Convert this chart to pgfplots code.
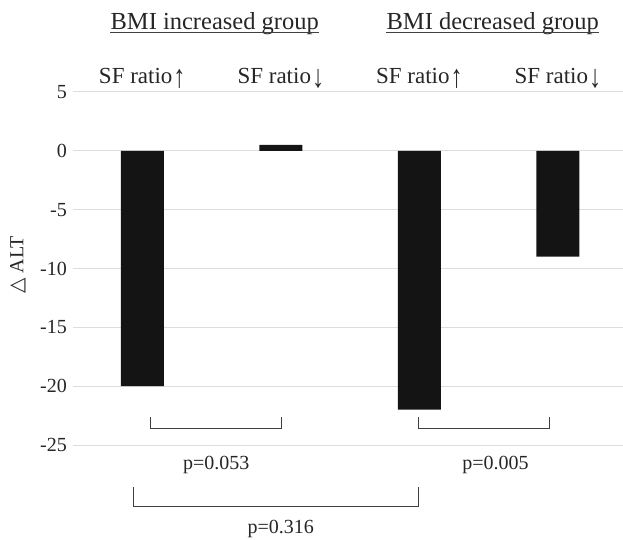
\documentclass[border=0pt]{standalone}
\usepackage{pgfplots}
\pgfplotsset{compat=1.18}
\usepackage{fontspec}
\setmainfont{Liberation Serif}
\newfontfamily\symfont{DejaVu Sans}
\definecolor{txt}{HTML}{262626}
\definecolor{barc}{HTML}{141414}
\definecolor{gridc}{HTML}{DDDDDD}
\definecolor{brk}{HTML}{404040}
\newcommand{\upar}{\kern1pt\raisebox{-4pt}{\scalebox{1.05}[1.4]{↑}}}
\newcommand{\dnar}{\kern1pt\raisebox{-4pt}{\scalebox{1.05}[1.4]{↓}}}
\begin{document}
\begin{tikzpicture}[x=1pt,y=1pt]
\useasboundingbox (0,0) rectangle (623,539);
\begin{axis}[
  at={(73pt,94pt)}, anchor=south west,
  width=550pt, height=353pt, scale only axis,
  xmin=-0.5, xmax=3.47, ymin=-25, ymax=5,
  axis line style={draw=none},
  major tick style={draw=none},
  xtick=\empty,
  ytick={-25,-20,-15,-10,-5,0,5},
  yticklabels={-25,-20,-15,-10,-5,0,5},
  yticklabel style={anchor=east, inner sep=0pt, xshift=-6pt, text=txt, font=\fontsize{20}{24}\selectfont},
  ymajorgrids, grid style={draw=gridc, line width=1pt},
  clip=false, ybar, bar width=43pt,
]
\addplot[fill=barc, draw=none] coordinates {(0,-20) (1,0.5) (2,-22) (3,-9)};

% category labels
\node[anchor=base, inner sep=0pt, yshift=8pt, text=txt, font=\fontsize{23}{27}\selectfont] at (axis cs:0,5) {SF ratio\upar};
\node[anchor=base, inner sep=0pt, yshift=8pt, text=txt, font=\fontsize{23}{27}\selectfont] at (axis cs:1,5) {SF ratio\dnar};
\node[anchor=base, inner sep=0pt, yshift=8pt, text=txt, font=\fontsize{23}{27}\selectfont] at (axis cs:2,5) {SF ratio\upar};
\node[anchor=base, inner sep=0pt, yshift=8pt, text=txt, font=\fontsize{23}{27}\selectfont] at (axis cs:3,5) {SF ratio\dnar};

% group titles
\node[anchor=base, inner sep=0pt, yshift=62pt, text=txt, font=\fontsize{24.5}{29}\selectfont] (t1) at (axis cs:0.523,5) {BMI increased group};
\node[anchor=base, inner sep=0pt, yshift=62pt, text=txt, font=\fontsize{24.5}{29}\selectfont] (t2) at (axis cs:2.53,5) {BMI decreased group};
\draw[brk, line width=1.2pt] ([yshift=-2.5pt]t1.base west) -- ([yshift=-2.5pt]t1.base east);
\draw[brk, line width=1.2pt] ([yshift=-2.5pt]t2.base west) -- ([yshift=-2.5pt]t2.base east);

% brackets
\draw[brk, line width=1pt] (axis cs:0.058,-22.6) |- (axis cs:1.004,-23.6) -- (axis cs:1.004,-22.6);
\draw[brk, line width=1pt] (axis cs:1.993,-22.6) |- (axis cs:2.939,-23.6) -- (axis cs:2.939,-22.6);
\draw[brk, line width=1pt] (axis cs:-0.065,-28.6) |- (axis cs:1.993,-30.2) -- (axis cs:1.993,-28.6);

% p values
\node[anchor=base, inner sep=0pt, text=txt, font=\fontsize{20}{24}\selectfont] at (axis cs:0.534,-27.1) {p=0.053};
\node[anchor=base, inner sep=0pt, text=txt, font=\fontsize{20}{24}\selectfont] at (axis cs:2.549,-27.1) {p=0.005};
\node[anchor=base, inner sep=0pt, text=txt, font=\fontsize{20}{24}\selectfont] at (axis cs:1.0,-32.54) {p=0.316};
\end{axis}
\node[rotate=90, inner sep=0pt, text=txt, font=\fontsize{20}{24}\selectfont] at (18,274) {{\symfont △} ALT};
\end{tikzpicture}
\end{document}
